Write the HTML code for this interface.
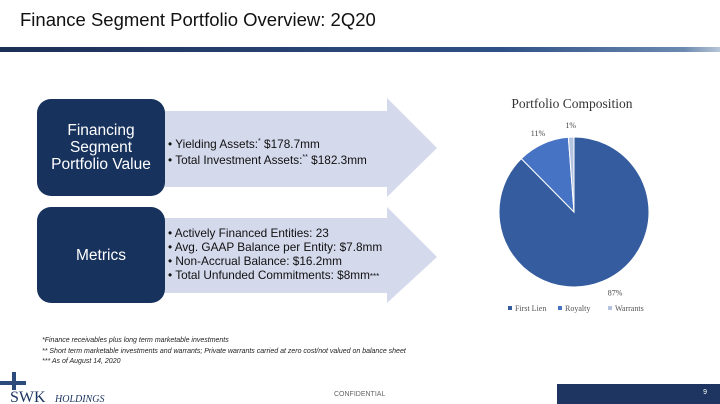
<!DOCTYPE html>
<html><head><meta charset="utf-8"><style>
body{margin:0;width:720px;height:404px;background:#fff;position:relative;overflow:hidden;font-family:"Liberation Sans",sans-serif}
.abs{position:absolute}
.box{position:absolute;left:37px;width:128px;background:#17325c;border-radius:14px;color:#fff;display:flex;align-items:center;justify-content:center;text-align:center;font-size:15.5px;line-height:17px}
.bl{position:absolute;left:168px;font-size:11.8px;color:#111;line-height:14px}
.fn{font-style:italic;font-size:7px;color:#222;line-height:10.5px}
</style></head><body>
<div class="abs" style="left:20px;top:9px;font-size:18.5px;color:#111">Finance Segment Portfolio Overview: 2Q20</div>
<div class="abs" style="left:0;top:47px;width:720px;height:5px;background:linear-gradient(90deg,#1c2f55,#2f5187 70%,#6b8ab0 95%,#b8c6d8)"></div>
<svg class="abs" style="left:0;top:0" width="720" height="404">
<polygon points="150,111 387,111 387,98 437,148 387,197 387,187 150,187" fill="#d4d9ec"/>
<polygon points="150,218 387,218 387,207 437,257 387,303 387,293 150,293" fill="#d4d9ec"/>
</svg>
<div class="box" style="top:99px;height:97px">Financing<br>Segment<br>Portfolio Value</div>
<div class="box" style="top:207px;height:96px">Metrics</div>
<div class="bl" style="top:135px">• Yielding Assets:<sup style="font-size:7px">*</sup> $178.7mm<br>• Total Investment Assets:<sup style="font-size:7px">**</sup> $182.3mm</div>
<div class="bl" style="top:226px">• Actively Financed Entities: 23<br>• Avg. GAAP Balance per Entity: $7.8mm<br>• Non-Accrual Balance: $16.2mm<br>• Total Unfunded Commitments: $8mm<span style="font-size:8px">***</span></div>
<svg class="abs" id="pie" style="left:460px;top:90px" width="240" height="230">
<text x="112" y="18" text-anchor="middle" font-family="Liberation Serif,serif" font-size="13.5" fill="#333">Portfolio Composition</text>
</svg>
<div class="abs fn" style="left:42px;top:336px">*Finance receivables plus long term marketable investments<br>** Short term marketable investments and warrants; Private warrants carried at zero cost/not valued on balance sheet<br>*** As of August 14, 2020</div>
<svg class="abs" style="left:0;top:372px" width="150" height="32">
<rect x="12" y="0" width="4" height="18" fill="#2c4a7a"/><rect x="0" y="9" width="26" height="4" fill="#2c4a7a"/>
<text x="10" y="30" font-family="Liberation Serif,serif" font-size="16" fill="#1d3560">SWK</text>
<text x="55" y="30" font-family="Liberation Serif,serif" font-style="italic" font-size="10" fill="#1d3560">HOLDINGS</text>
</svg>
<div class="abs" style="left:334px;top:391px;font-size:7px;color:#666">CONFIDENTIAL</div>
<div class="abs" style="left:557px;top:384px;width:163px;height:20px;background:#1d3560;color:#fff;font-size:7px"><span style="position:absolute;right:13px;top:5px">9</span></div>
<script>
const categories=["First Lien","Royalty","Warrants"];
const values=[87.6,11.2,1.2];
const labels=["87%","11%","1%"];
const colors=["#355c9f","#4673c4","#b4c3e0"];
const svg=document.getElementById('pie');
const NS="http://www.w3.org/2000/svg";
const cx=114,cy=122,r=75;
const total=values.reduce((a,b)=>a+b,0);
let a0=0;
values.forEach((v,i)=>{
 const a1=a0+v/total*2*Math.PI;
 const x0=cx+r*Math.sin(a0),y0=cy-r*Math.cos(a0),x1=cx+r*Math.sin(a1),y1=cy-r*Math.cos(a1);
 const p=document.createElementNS(NS,'path');
 p.setAttribute('d',`M${cx},${cy}L${x0},${y0}A${r},${r} 0 ${a1-a0>Math.PI?1:0} 1 ${x1},${y1}Z`);
 p.setAttribute('fill',colors[i]);p.setAttribute('stroke','#fff');p.setAttribute('stroke-width','1');
 
 
 svg.appendChild(p);
 const mid=(a0+a1)/2;
 const lr=r+12;
 const t=document.createElementNS(NS,'text');
 t.setAttribute('x',cx+lr*Math.sin(mid)+(i==0?8:0));t.setAttribute('y',cy-lr*Math.cos(mid)+3);
 t.setAttribute('text-anchor','middle');t.setAttribute('font-size','8');t.setAttribute('font-family','Liberation Serif,serif');t.setAttribute('fill','#444');
 t.textContent=labels[i];
 
 
 svg.appendChild(t);
 a0=a1;
});
const lx=[48,98,148];
categories.forEach((c,i)=>{
 const g=document.createElementNS(NS,'g');
 
 
 g.innerHTML=`<rect x="${lx[i]}" y="216" width="4" height="4" fill="${colors[i]}"/><text x="${lx[i]+7}" y="221" font-size="8" font-family="Liberation Serif,serif" fill="#555">${c}</text>`;
 svg.appendChild(g);
});
</script>
</body></html>
